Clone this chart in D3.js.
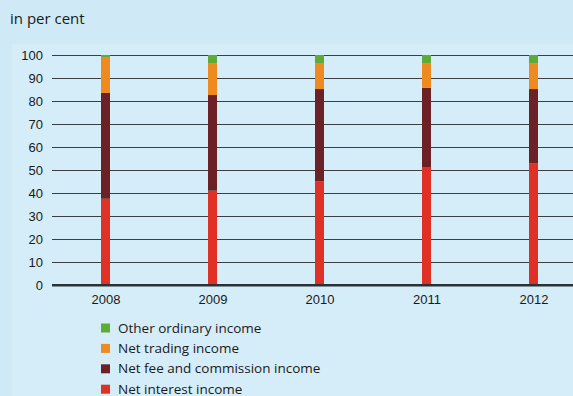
<!DOCTYPE html>
<html>
<head>
<meta charset="utf-8">
<script src="https://cdn.jsdelivr.net/npm/d3@7"></script>
<style>
  body { margin: 0; background: #cfeaf6; }
  svg { display: block; font-family: "Open Sans", "Noto Sans", sans-serif; }
</style>
</head>
<body>
<script>
// data (per cent of total income)
var years = ["2008", "2009", "2010", "2011", "2012"];
var netInterest = [37.5, 41, 45, 51.3, 53];
var netFee = [46, 41.6, 40.2, 34.4, 32.2];
var netTrading = [15.6, 13.9, 11.3, 10.8, 11.3];
var otherOrdinary = [0.9, 3.5, 3.5, 3.5, 3.5];
var yTicks = [0, 10, 20, 30, 40, 50, 60, 70, 80, 90, 100];

var seriesNames = ["Net interest income", "Net fee and commission income", "Net trading income", "Other ordinary income"];
var seriesColors = ["#e03127", "#6c2126", "#ef8a20", "#5eab36"];

var outWidth = 573, outHeight = 396;

// rows for the stack
var table = years.map(function(y, i) {
  return { year: y, s0: netInterest[i], s1: netFee[i], s2: netTrading[i], s3: otherOrdinary[i] };
});

var xScale = d3.scalePoint().domain(years).range([52, 587]).padding(0.5);
var yScale = d3.scaleLinear().domain([0, 100]).range([285, 55]);
var barW = 9;

var svg = d3.select("body").append("svg")
  .attr("width", outWidth)
  .attr("height", outHeight);

// lighter panel
svg.append("rect")
  .attr("x", 12).attr("y", 44)
  .attr("width", outWidth - 12).attr("height", outHeight - 44)
  .attr("fill", "#d5edf8");

svg.append("text")
  .attr("x", 10).attr("y", 24)
  .style("font-size", "15px")
  .attr("fill", "#1a1a1a")
  .text("in per cent");

// grid lines + y labels
var yAxis = d3.axisLeft(yScale)
  .tickValues(yTicks)
  .tickSize(-(outWidth - 52))
  .tickPadding(9);

var yg = svg.append("g")
  .attr("transform", "translate(52,0)")
  .call(yAxis);
yg.select(".domain").remove();
yg.selectAll(".tick line")
  .attr("stroke", function(d) { return d === 0 ? "#2b3236" : "#3a3f44"; })
  .attr("stroke-width", function(d) { return d === 0 ? 2 : 1; });
yg.selectAll(".tick text")
  .style("font-size", "13px")
  .attr("fill", "#1a1a1a")
  .attr("font-family", null);

// stacked bars
var stack = d3.stack().keys(["s0", "s1", "s2", "s3"]);
var layers = stack(table);

svg.selectAll(".layer")
  .data(layers)
  .enter().append("g")
    .attr("class", "layer")
    .attr("fill", function(d, i) { return seriesColors[i]; })
  .selectAll("rect")
  .data(function(d) { return d; })
  .enter().append("rect")
    .attr("x", function(d) { return xScale(d.data.year) - barW / 2; })
    .attr("y", function(d) { return yScale(d[1]); })
    .attr("width", barW)
    .attr("height", function(d) { return yScale(d[0]) - yScale(d[1]); });

// redraw baseline on top of bars
svg.append("line")
  .attr("x1", 52).attr("x2", outWidth)
  .attr("y1", yScale(0)).attr("y2", yScale(0))
  .attr("stroke", "#2b3236").attr("stroke-width", 2);

// x labels
var xAxis = d3.axisBottom(xScale).tickSize(0).tickPadding(10);
var xg = svg.append("g")
  .attr("transform", "translate(0," + yScale(0) + ")")
  .call(xAxis);
xg.select(".domain").remove();
xg.selectAll(".tick text")
  .style("font-size", "13px")
  .attr("fill", "#1a1a1a")
  .attr("font-family", null);

// legend, top to bottom reversed from stack order
var legendOrder = [3, 2, 1, 0];
var legend = svg.selectAll(".legend")
  .data(legendOrder)
  .enter().append("g")
    .attr("class", "legend")
    .attr("transform", function(d, i) { return "translate(101," + (323.5 + i * 20.4) + ")"; });

legend.append("rect")
  .attr("width", 9).attr("height", 9)
  .attr("fill", function(d) { return seriesColors[d]; });

legend.append("text")
  .attr("x", 17).attr("y", 9)
  .style("font-size", "13.5px")
  .attr("fill", "#1a1a1a")
  .text(function(d) { return seriesNames[d]; });
</script>
</body>
</html>
